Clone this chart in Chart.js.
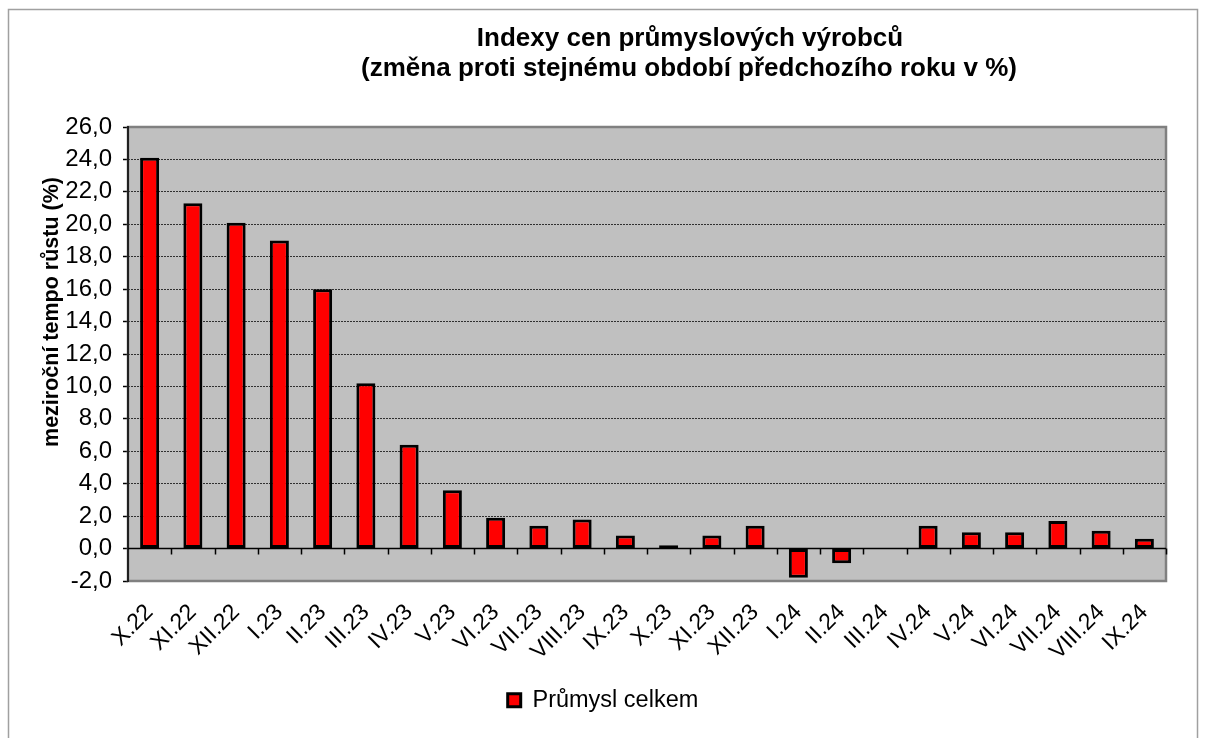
<!DOCTYPE html>
<html>
<head>
<meta charset="utf-8">
<script src="https://cdn.jsdelivr.net/npm/chart.js@4/dist/chart.umd.min.js"></script>
<style>
  body { margin: 0; background: #fff; }
  #wrap { width: 1206px; height: 738px; }
</style>
</head>
<body>
<div id="wrap"><canvas id="myChart" width="1206" height="738"></canvas></div>
<script>
// months (Roman numeral month . year)
let months = ['X.22', 'XI.22', 'XII.22', 'I.23', 'II.23', 'III.23', 'IV.23', 'V.23', 'VI.23', 'VII.23', 'VIII.23', 'IX.23',
    'X.23', 'XI.23', 'XII.23', 'I.24', 'II.24', 'III.24', 'IV.24', 'V.24', 'VI.24', 'VII.24', 'VIII.24', 'IX.24']
// year-on-year change, %
let prumyslCelkem = [24.1, 21.3, 20.1, 19.0, 16.0, 10.2, 6.4, 3.6, 1.9, 1.4, 1.8, 0.8,
    0.2, 0.8, 1.4, -1.8, -0.9, 0.0, 1.4, 1.0, 1.0, 1.7, 1.1, 0.6]
let yMin = -2
let yMax = 26
let yStep = 2

let titleLines = ['Indexy cen průmyslových výrobců', '(změna proti stejnému období předchozího roku v %)']
let yTitle = 'meziroční tempo růstu (%)'

// background, frame, plot area, titles
let decor = {
    id: 'decor',
    beforeDraw: function(chart) {
        let c = chart.ctx
        let a = chart.chartArea
        c.save()
        c.fillStyle = '#fff'
        c.fillRect(0, 0, chart.width, chart.height)
        c.strokeStyle = '#a0a0a0'
        c.lineWidth = 1.5
        c.strokeRect(8.5, 9.5, 1189, 800)
        c.fillStyle = '#c0c0c0'
        c.fillRect(a.left, a.top, a.right - a.left, a.bottom - a.top)

        c.fillStyle = '#000'
        c.textAlign = 'center'
        c.textBaseline = 'alphabetic'
        c.font = 'bold 26px "Liberation Sans", Arial, sans-serif'
        c.fillText(titleLines[0], 690, 46)
        c.fillText(titleLines[1], 689, 76)

        c.translate(58, 312)
        c.rotate(-Math.PI / 2)
        c.font = 'bold 21.5px "Liberation Sans", Arial, sans-serif'
        c.fillText(yTitle, 0, 0)
        c.restore()
    },
    beforeDatasetsDraw: function(chart) {
        let c = chart.ctx
        let a = chart.chartArea
        let y0 = chart.scales.y.getPixelForValue(0)
        c.save()
        // plot border
        c.strokeStyle = '#808080'
        c.lineWidth = 2.5
        c.strokeRect(a.left, a.top, a.right - a.left, a.bottom - a.top)
        // value axis line
        c.strokeStyle = '#000'
        c.lineWidth = 1.5
        c.beginPath()
        c.moveTo(a.left, a.top - 1)
        c.lineTo(a.left, a.bottom + 1)
        c.stroke()
        // zero line and category ticks
        c.beginPath()
        c.moveTo(a.left, y0)
        c.lineTo(a.right, y0)
        let step = (a.right - a.left) / months.length
        for (let i = 1; i <= months.length; i++) {
            let tx = Math.round(a.left + step * i) + 0.5
            c.moveTo(tx, y0)
            c.lineTo(tx, y0 + 6)
        }
        c.stroke()
        c.restore()
    }
}

let ctx = document.getElementById('myChart').getContext('2d')
let chart = new Chart(ctx, {
    type: 'bar',
    data: {
        labels: months,
        datasets: [{
            label: 'Průmysl celkem',
            data: prumyslCelkem,
            backgroundColor: '#ff0000',
            borderColor: '#000000',
            borderWidth: 3,
            borderSkipped: false,
            barPercentage: 0.44,
            categoryPercentage: 1.0
        }]
    },
    options: {
        responsive: false,
        animation: false,
        layout: {
            padding: { left: 40, top: 127, right: 40, bottom: 16 }
        },
        plugins: {
            title: { display: false },
            tooltip: { enabled: false },
            legend: {
                position: 'bottom',
                labels: {
                    color: '#000',
                    font: { family: '"Liberation Sans", Arial, sans-serif', size: 23.5 },
                    boxWidth: 13,
                    boxHeight: 13,
                    padding: 10
                }
            }
        },
        scales: {
            x: {
                grid: { display: false },
                border: { display: false },
                ticks: {
                    color: '#000',
                    font: { family: '"Liberation Sans", Arial, sans-serif', size: 23 },
                    minRotation: 45,
                    maxRotation: 45,
                    autoSkip: false,
                    padding: 10
                },
                afterFit: function(scale) {
                    scale.height = 97.5
                }
            },
            y: {
                min: yMin,
                max: yMax,
                border: { display: false, dash: [2, 1] },
                grid: {
                    color: '#303030',
                    lineWidth: 1,
                    tickColor: '#000',
                    tickLength: 5,
                    tickWidth: 1.5,
                    tickBorderDash: []
                },
                ticks: {
                    stepSize: yStep,
                    color: '#000',
                    font: { family: '"Liberation Sans", Arial, sans-serif', size: 24 },
                    padding: 11,
                    callback: function(v) {
                        return v.toFixed(1).replace('.', ',')
                    }
                },
                afterFit: function(scale) {
                    scale.width = 88
                }
            }
        }
    },
    plugins: [decor]
})
</script>
</body>
</html>
